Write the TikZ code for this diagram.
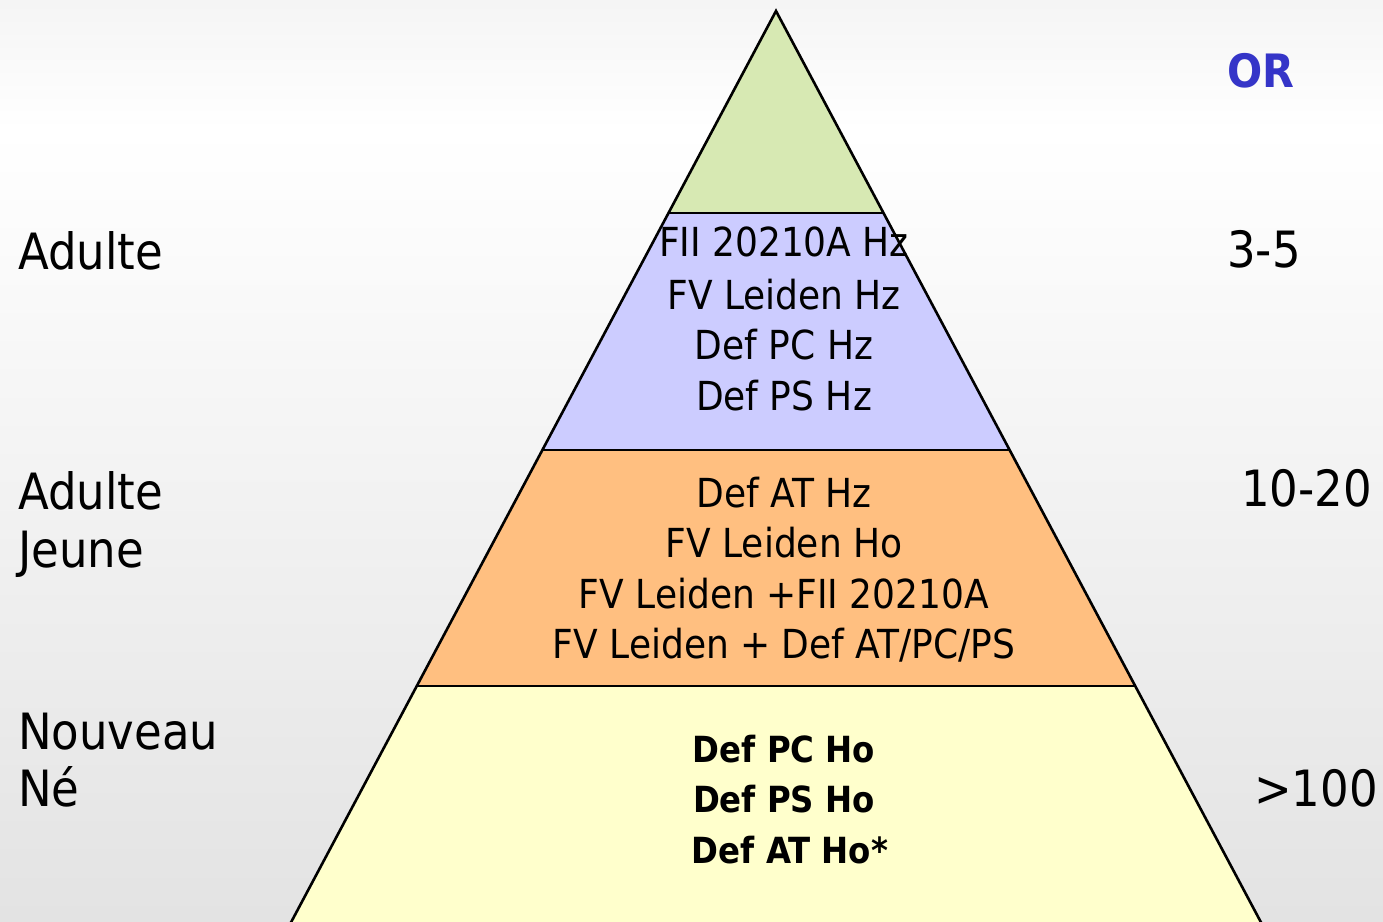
\documentclass[tikz,border=0pt]{standalone}
\usepackage{fontspec}
\setmainfont{DejaVu Sans Condensed}
\begin{document}
\begin{tikzpicture}[x=1bp,y=-1bp,
  tierline/.style={draw=black,line width=2.6bp,line join=miter},
  intxt/.style={anchor=base,inner sep=0pt,font=\fontsize{40bp}{48bp}\selectfont},
  inbold/.style={intxt,font=\fontsize{36bp}{44bp}\selectfont\bfseries},
  sidetxt/.style={anchor=base west,inner sep=0pt,font=\fontsize{50bp}{57bp}\selectfont}]
\definecolor{tiergreen}{HTML}{D7E9B3}
\definecolor{tierblue}{HTML}{CCCCFF}
\definecolor{tierorange}{HTML}{FFBF80}
\definecolor{tieryellow}{HTML}{FFFFCC}
\definecolor{orblue}{HTML}{3535C8}
\useasboundingbox (0,0) rectangle (1383,921);
\clip (0,0) rectangle (1383,921);
% background
\shade[top color=black!4,bottom color=white] (0,0) rectangle (1383,130);
\shade[top color=white,bottom color=black!11] (0,129) rectangle (1383,921);
% pyramid tiers (edges: x = 776 -/+ 0.532 (y-11))
\coordinate (apex) at (776,11);
\coordinate (l1) at (668.5,213);  \coordinate (r1) at (883.5,213);
\coordinate (l2) at (542.5,450);  \coordinate (r2) at (1009.5,450);
\coordinate (l3) at (417,686);    \coordinate (r3) at (1135,686);
\coordinate (l4) at (288,928);    \coordinate (r4) at (1264,928);
\fill[tiergreen] (apex) -- (r1) -- (l1) -- cycle;
\fill[tierblue] (l1) -- (r1) -- (r2) -- (l2) -- cycle;
\fill[tierorange] (l2) -- (r2) -- (r3) -- (l3) -- cycle;
\fill[tieryellow] (l3) -- (r3) -- (r4) -- (l4) -- cycle;
\draw[tierline] (l4) -- (apex) -- (r4);
\draw[tierline] (l1) -- (r1);
\draw[tierline] (l2) -- (r2);
\draw[tierline] (l3) -- (r3);
% tier texts
\node[intxt] (b1) at (784,256) {FII 20210A Hz};
\node[intxt] (b2) at (784,309) {FV Leiden Hz};
\node[intxt] (b3) at (784,359) {Def PC Hz};
\node[intxt] (b4) at (784,410) {Def PS Hz};
\node[intxt] (o1) at (784,507) {Def AT Hz};
\node[intxt] (o2) at (784,557) {FV Leiden Ho};
\node[intxt] (o3) at (784,608) {FV Leiden +FII 20210A};
\node[intxt] (o4) at (784,658) {FV Leiden + Def AT/PC/PS};
\node[inbold] (y1) at (784,762) {Def PC Ho};
\node[inbold] (y2) at (784,812) {Def PS Ho};
\node[inbold] (y3) at (790,863) {Def AT Ho*};
% age labels
\node[sidetxt] (a1) at (18,269) {Adulte};
\node[sidetxt] (a2) at (18,509) {Adulte};
\node[sidetxt] (a3) at (18,567) {Jeune};
\node[sidetxt] (a4) at (18,749) {Nouveau};
\node[sidetxt] (a5) at (18,806) {Né};
% odds ratios
\node[sidetxt,font=\fontsize{46bp}{57bp}\selectfont\bfseries,text=orblue] (or) at (1227,87) {OR};
\node[sidetxt] (r35) at (1227,267) {3-5};
\node[sidetxt,anchor=base east] (r1020) at (1372,506) {10-20};
\node[sidetxt,anchor=base east] (r100) at (1378,806) {>100};
\end{tikzpicture}
\end{document}
